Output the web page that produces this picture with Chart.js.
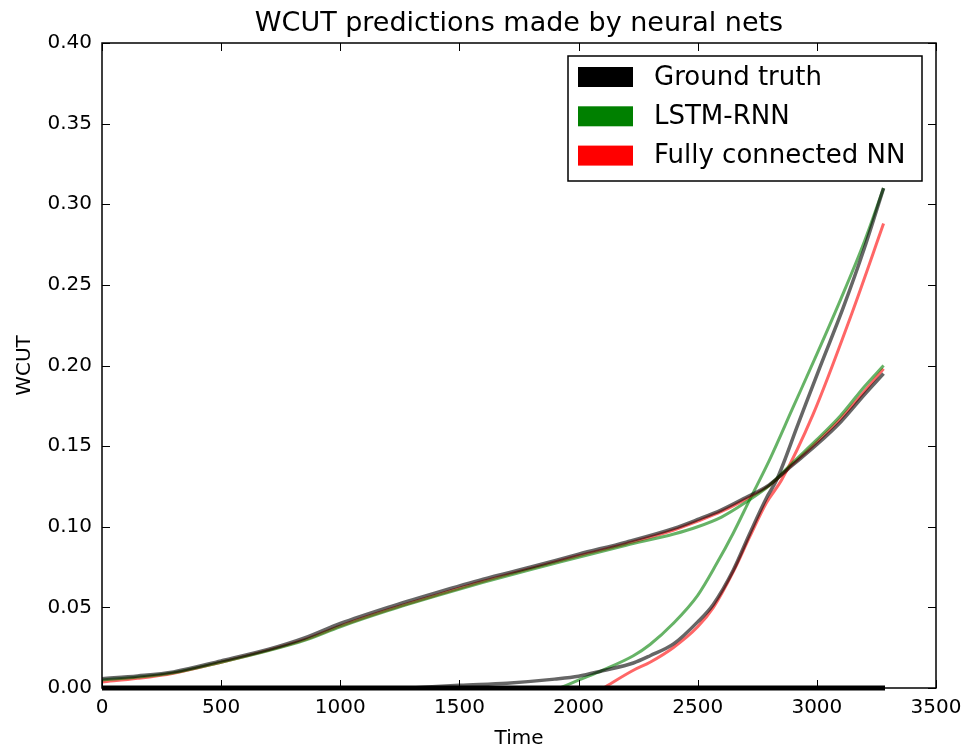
<!DOCTYPE html>
<html>
<head>
<meta charset="utf-8">
<title>WCUT predictions made by neural nets</title>
<script src="https://cdn.jsdelivr.net/npm/chart.js@4.4.1/dist/chart.umd.min.js"></script>
<style>
    html, body { margin: 0; padding: 0; background: #fff; }
    #wrap { width: 967px; height: 748px; }
</style>
</head>
<body>
<div id="wrap"><canvas id="wcutChart" width="967" height="748"></canvas></div>
<script>
// Title / legend / series names
const chartTitle = 'WCUT predictions made by neural nets';
const seriesNames = ['Ground truth', 'LSTM-RNN', 'Fully connected NN'];

// Axis ticks
const xTicks = [0, 500, 1000, 1500, 2000, 2500, 3000, 3500];
const yTicks = [0, 0.05, 0.10, 0.15, 0.20, 0.25, 0.30, 0.35, 0.40];

// Well 1 (slow rise) - shared time grid
const slowTime = [0, 150, 300, 500, 700, 850, 1000, 1200, 1400, 1600, 1800, 2000, 2200, 2400, 2500, 2600, 2700, 2800, 2900, 3000, 3100, 3200, 3280];
const gtSlow   = [0.0058, 0.0075, 0.0100, 0.0168, 0.0240, 0.0310, 0.0400, 0.0500, 0.0590, 0.0675, 0.0750, 0.0830, 0.0905, 0.0990, 0.1045, 0.1105, 0.1180, 0.1260, 0.1385, 0.1510, 0.1650, 0.1820, 0.1950];
const lstmSlow = [0.0050, 0.0068, 0.0095, 0.0160, 0.0232, 0.0295, 0.0380, 0.0480, 0.0570, 0.0655, 0.0735, 0.0810, 0.0885, 0.0955, 0.1000, 0.1060, 0.1150, 0.1255, 0.1400, 0.1540, 0.1690, 0.1870, 0.2000];
const fcSlow   = [0.0037, 0.0060, 0.0092, 0.0160, 0.0235, 0.0300, 0.0385, 0.0485, 0.0575, 0.0662, 0.0742, 0.0820, 0.0895, 0.0980, 0.1035, 0.1095, 0.1170, 0.1255, 0.1390, 0.1525, 0.1670, 0.1840, 0.1980];

// Well 2 (fast rise)
const gtFastTime = [1300, 1500, 1700, 1900, 2000, 2100, 2230, 2300, 2400, 2500, 2566, 2649, 2719, 2789, 2831, 2922, 3013, 3111, 3200, 3280];
const gtFast     = [0.000, 0.0017, 0.0030, 0.0055, 0.0073, 0.0107, 0.0155, 0.0200, 0.0275, 0.0410, 0.0520, 0.0730, 0.0960, 0.1180, 0.1290, 0.1640, 0.1990, 0.2360, 0.2730, 0.3100];
const lstmFastTime = [1922, 2002, 2100, 2230, 2300, 2397, 2500, 2579, 2649, 2719, 2800, 2900, 3000, 3100, 3200, 3280];
const lstmFast     = [0.000, 0.005, 0.011, 0.020, 0.027, 0.040, 0.0575, 0.077, 0.096, 0.117, 0.141, 0.174, 0.207, 0.241, 0.277, 0.310];
const fcFastTime = [2104, 2230, 2300, 2397, 2500, 2566, 2649, 2719, 2789, 2852, 2985, 3146, 3280];
const fcFast     = [0.000, 0.011, 0.016, 0.025, 0.038, 0.050, 0.072, 0.094, 0.115, 0.129, 0.170, 0.232, 0.288];

// Well 3 (dry, stays at zero)
const zeroTime = [0, 3286];
const zeroVals = [0, 0];

const toPoints = (times, vals) => times.map((t, i) => ({ x: t, y: vals[i] }));

const GRAY = 'rgba(0, 0, 0, 0.6)';
const GREEN = 'rgba(0, 128, 0, 0.6)';
const RED = 'rgba(255, 0, 0, 0.6)';
const legendColors = ['#000000', '#008000', '#ff0000'];

const line = (label, times, vals, color, width) => ({
    label: label,
    data: toPoints(times, vals),
    borderColor: color,
    backgroundColor: color,
    borderWidth: width,
    pointRadius: 0,
    fill: false,
    cubicInterpolationMode: 'monotone'
});

// Frame with inward ticks on all four sides, plus the title centred over the plot
const framePlugin = {
    id: 'frame',
    afterDatasetsDraw(chart) {
        const { ctx, chartArea: a, scales: { x, y } } = chart;
        ctx.save();
        ctx.strokeStyle = '#000';
        ctx.lineWidth = 1.5;
        ctx.strokeRect(a.left, a.top, a.right - a.left, a.bottom - a.top);
        ctx.lineWidth = 1;
        ctx.beginPath();
        xTicks.forEach(v => {
            const px = Math.round(x.getPixelForValue(v)) + 0.5;
            ctx.moveTo(px, a.bottom); ctx.lineTo(px, a.bottom - 8);
            ctx.moveTo(px, a.top); ctx.lineTo(px, a.top + 8);
        });
        yTicks.forEach(v => {
            const py = Math.round(y.getPixelForValue(v)) + 0.5;
            ctx.moveTo(a.left, py); ctx.lineTo(a.left + 8, py);
            ctx.moveTo(a.right, py); ctx.lineTo(a.right - 8, py);
        });
        ctx.stroke();

        ctx.fillStyle = '#000';
        ctx.font = '27px "DejaVu Sans"';
        ctx.textAlign = 'center';
        ctx.textBaseline = 'middle';
        ctx.fillText(chartTitle, (a.left + a.right) / 2, 24);
        ctx.restore();
    }
};

// Boxed legend in the upper right corner of the plot area
const boxLegendPlugin = {
    id: 'boxLegend',
    afterDraw(chart) {
        const { ctx, chartArea: a } = chart;
        const boxW = 354, boxH = 125;
        const left = a.right - 14 - boxW;
        const top = a.top + 13;
        ctx.save();
        ctx.fillStyle = '#fff';
        ctx.fillRect(left, top, boxW, boxH);
        ctx.strokeStyle = '#000';
        ctx.lineWidth = 1.5;
        ctx.strokeRect(left, top, boxW, boxH);
        ctx.font = '26px "DejaVu Sans"';
        ctx.textBaseline = 'middle';
        seriesNames.forEach((name, i) => {
            const cy = top + 21 + i * 39.3;
            ctx.fillStyle = legendColors[i];
            ctx.fillRect(left + 10, cy - 10, 55, 20);
            ctx.fillStyle = '#000';
            ctx.fillText(name, left + 86, cy + 1);
        });
        ctx.restore();
    }
};

Chart.defaults.font.family = '"DejaVu Sans", sans-serif';
Chart.defaults.color = '#000';

const zeroLine = line('Ground truth', zeroTime, zeroVals, '#000000', 5);
zeroLine.clip = false;

const ctx = document.getElementById('wcutChart').getContext('2d');
const wcutChart = new Chart(ctx, {
    type: 'line',
    data: {
        datasets: [
            zeroLine,
            line('Ground truth', slowTime, gtSlow, GRAY, 3.5),
            line('LSTM-RNN', slowTime, lstmSlow, GREEN, 3),
            line('Fully connected NN', slowTime, fcSlow, RED, 3),
            line('Ground truth', gtFastTime, gtFast, GRAY, 3.5),
            line('LSTM-RNN', lstmFastTime, lstmFast, GREEN, 3),
            line('Fully connected NN', fcFastTime, fcFast, RED, 3)
        ]
    },
    options: {
        responsive: false,
        animation: false,
        layout: { padding: { left: 0, right: 31, top: 43, bottom: 0 } },
        scales: {
            x: {
                type: 'linear',
                min: 0,
                max: 3500,
                grid: { display: false, drawTicks: false },
                border: { display: false },
                afterBuildTicks: (scale) => { scale.ticks = xTicks.map(v => ({ value: v })); },
                ticks: { font: { size: 20 }, padding: 8, maxRotation: 0, color: '#000', callback: (v) => String(v) },
                title: { display: true, text: 'Time', font: { size: 20 }, padding: { top: 0, bottom: -3 } },
                afterFit: (scale) => { scale.height = 60; scale.paddingLeft = 0; scale.paddingRight = 0; }
            },
            y: {
                min: 0,
                max: 0.4,
                grid: { display: false, drawTicks: false },
                border: { display: false },
                afterBuildTicks: (scale) => { scale.ticks = yTicks.map(v => ({ value: v })); },
                ticks: { font: { size: 20 }, padding: 10, color: '#000', callback: (v) => Number(v).toFixed(2) },
                title: { display: true, text: 'WCUT', font: { size: 20 }, padding: { top: 13, bottom: 0 } },
                afterFit: (scale) => { scale.width = 102; scale.paddingTop = 0; scale.paddingBottom = 0; }
            }
        },
        plugins: {
            legend: { display: false },
            tooltip: { enabled: false },
            title: { display: false }
        }
    },
    plugins: [framePlugin, boxLegendPlugin]
});
</script>
</body>
</html>
